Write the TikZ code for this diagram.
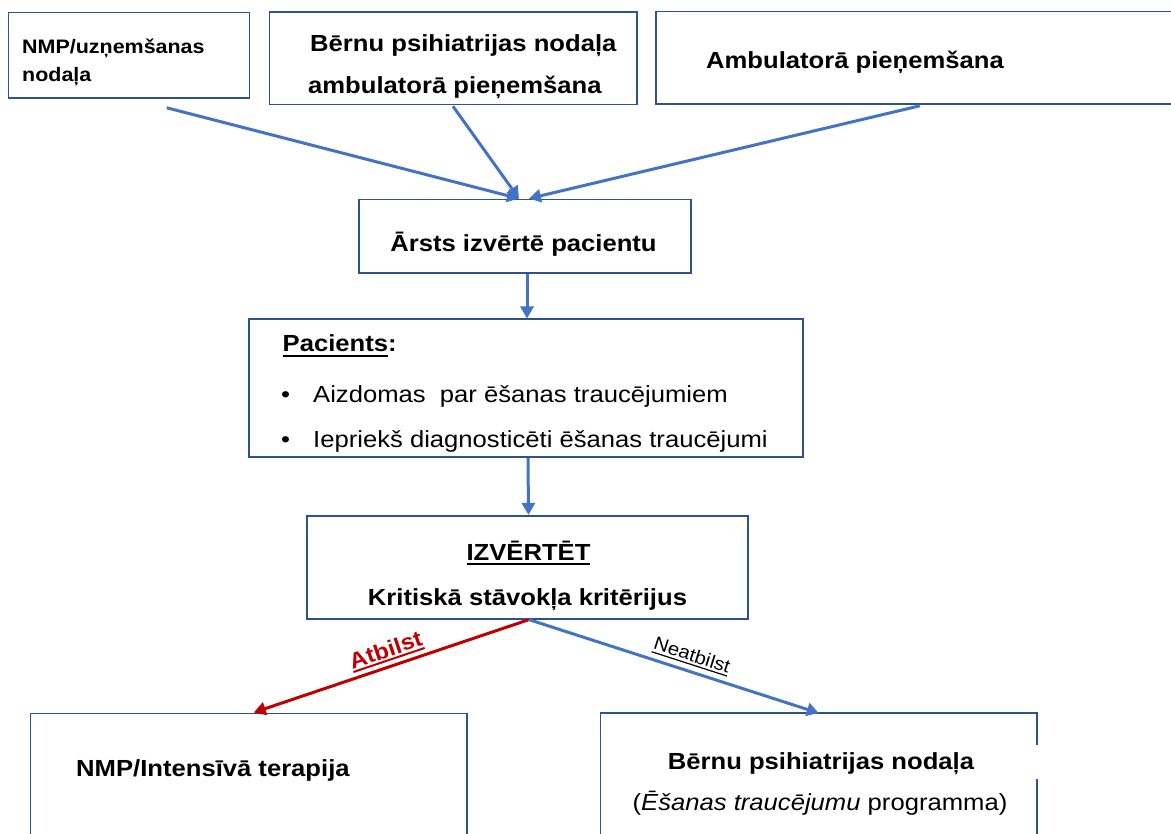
\documentclass[tikz,border=0pt]{standalone}
\usepackage{fontspec}
\setmainfont{Liberation Sans}[FakeStretch=1.1]
\usetikzlibrary{arrows.meta,calc}
\definecolor{boxblue}{HTML}{2F528F}
\definecolor{arrblue}{HTML}{4472C4}
\definecolor{arrred}{HTML}{C00000}
\newcommand\mainsz{\fontsize{23.3}{28}\selectfont}
\newcommand\firstsz{\fontsize{19.5}{28}\selectfont}
% underline with given offset below baseline and thickness
\newcommand\thul[3]{\leavevmode\setbox0=\hbox{#3}\rlap{\rule[-#1]{\wd0}{#2}}\box0}
\begin{document}
\begin{tikzpicture}[x=1pt,y=-1pt,
  box/.style={draw=boxblue, line width=1.6pt, inner sep=0pt},
  boxnd/.style={inner sep=0pt},
  boxline/.style={draw=boxblue, line width=1.6pt},
  txt/.style={inner sep=0pt, font=\mainsz},
  txtb/.style={inner sep=0pt, font=\mainsz\bfseries},
  arr/.style={draw=arrblue, line width=3pt, -{Triangle[length=12pt,width=13pt]}},
  arrR/.style={draw=arrred, line width=3pt, -{Triangle[length=12pt,width=13pt]}},
  lblR/.style={inner sep=0pt, text=arrred, font=\fontsize{22}{26}\selectfont\bfseries},
  lblB/.style={inner sep=0pt, text=black, font=\fontsize{18.5}{22}\selectfont}
]
\useasboundingbox[fill=white] (0,0) rectangle (1171,834);

% boxes
\node[box, minimum width=241pt, minimum height=85.5pt] (b1) at (128.8,55.25) {};
\node[box, minimum width=367.4pt, minimum height=92.2pt] (b2) at (453,58.4) {};
\node[box, minimum width=524.3pt, minimum height=92.3pt] (b3) at (917.85,57.85) {};
\node[box, minimum width=331.5pt, minimum height=73.7pt] (b4) at (525,236.2) {};
\node[box, minimum width=554pt, minimum height=138pt] (b5) at (526,388.3) {};
\node[box, minimum width=441pt, minimum height=103.3pt] (b6) at (527.5,567.35) {};
\node[box, minimum width=436.3pt, minimum height=136.7pt] (b7) at (248.75,781.65) {};
\node[boxnd, minimum width=436.1pt, minimum height=136.7pt] (b8) at (818.75,781.65) {};
\draw[boxline] (b8.south west) -- (b8.north west) -- (b8.north east) -- ($(b8.north east)+(0,32)$);
\draw[boxline] ($(b8.north east)+(0,66)$) -- (b8.south east);

% texts
\node[txtb, font=\firstsz\bfseries, anchor=base west] (t1a) at (22,54) {NMP/uzņemšanas};
\node[txtb, font=\firstsz\bfseries, anchor=base west] (t1b) at (22,82) {nodaļa};
\node[txtb, anchor=base west] (t2a) at (310,52) {Bērnu psihiatrijas nodaļa};
\node[txtb, anchor=base west] (t2b) at (308,94) {ambulatorā pieņemšana};
\node[txtb, anchor=base west] (t3) at (706,69) {Ambulatorā pieņemšana};
\node[txtb, anchor=base] (t4) at (523.5,251.5) {Ārsts izvērtē pacientu};
\node[txtb, anchor=base west] (t5a) at (282.5,351.7) {\thul{5pt}{1.8pt}{Pacients}:};
\node[txt, anchor=base west] (t5b1) at (281,402.7) {•};
\node[txt, anchor=base west] (t5b) at (313,402.7) {Aizdomas\ \ par ēšanas traucējumiem};
\node[txt, anchor=base west] (t5c1) at (281,447.7) {•};
\node[txt, anchor=base west] (t5c) at (313,447.7) {Iepriekš diagnosticēti ēšanas traucējumi};
\node[txtb, anchor=base] (t6a) at (528.5,560) {\thul{5pt}{1.8pt}{IZVĒRTĒT}};
\node[txtb, anchor=base] (t6b) at (527.5,605) {Kritiskā stāvokļa kritērijus};
\node[txtb, anchor=base west] (t7) at (76,776) {NMP/Intensīvā terapija};
\node[txtb, anchor=base] (t8a) at (821,769) {Bērnu psihiatrijas nodaļa};
\node[txt, anchor=base] (t8b) at (820,810) {(\textit{Ēšanas traucējumu} programma)};

% connectors
\draw[arr] ($(b1.south)+(38,9)$) -- ($(b4.north)+(-6,0)$);
\draw[arr] ($(b2.south)+(0,1)$) -- ($(b4.north)+(-6,0)$);
\draw[arr] ($(b3.south)+(2,1)$) -- ($(b4.north)+(4,0)$);
\draw[arr] ($(b4.south)+(2,0)$) -- ($(b5.north)+(1,0)$);
\draw[arr] ($(b5.south)+(2,0)$) -- ($(b6.north)+(1,0)$);
\draw[arrR] ($(b6.south)+(1,0)$) -- node[lblR, sloped, above=4pt, pos=0.5] (la) {\thul{4pt}{2pt}{Atbilst}} ($(b7.north)+(5,0)$);
\draw[arr] ($(b6.south)+(2,0)$) -- node[lblB, sloped, above=5pt, pos=0.545] (lb) {\thul{3.5pt}{1.2pt}{Neatbilst}} (b8.north);
\end{tikzpicture}
\end{document}
